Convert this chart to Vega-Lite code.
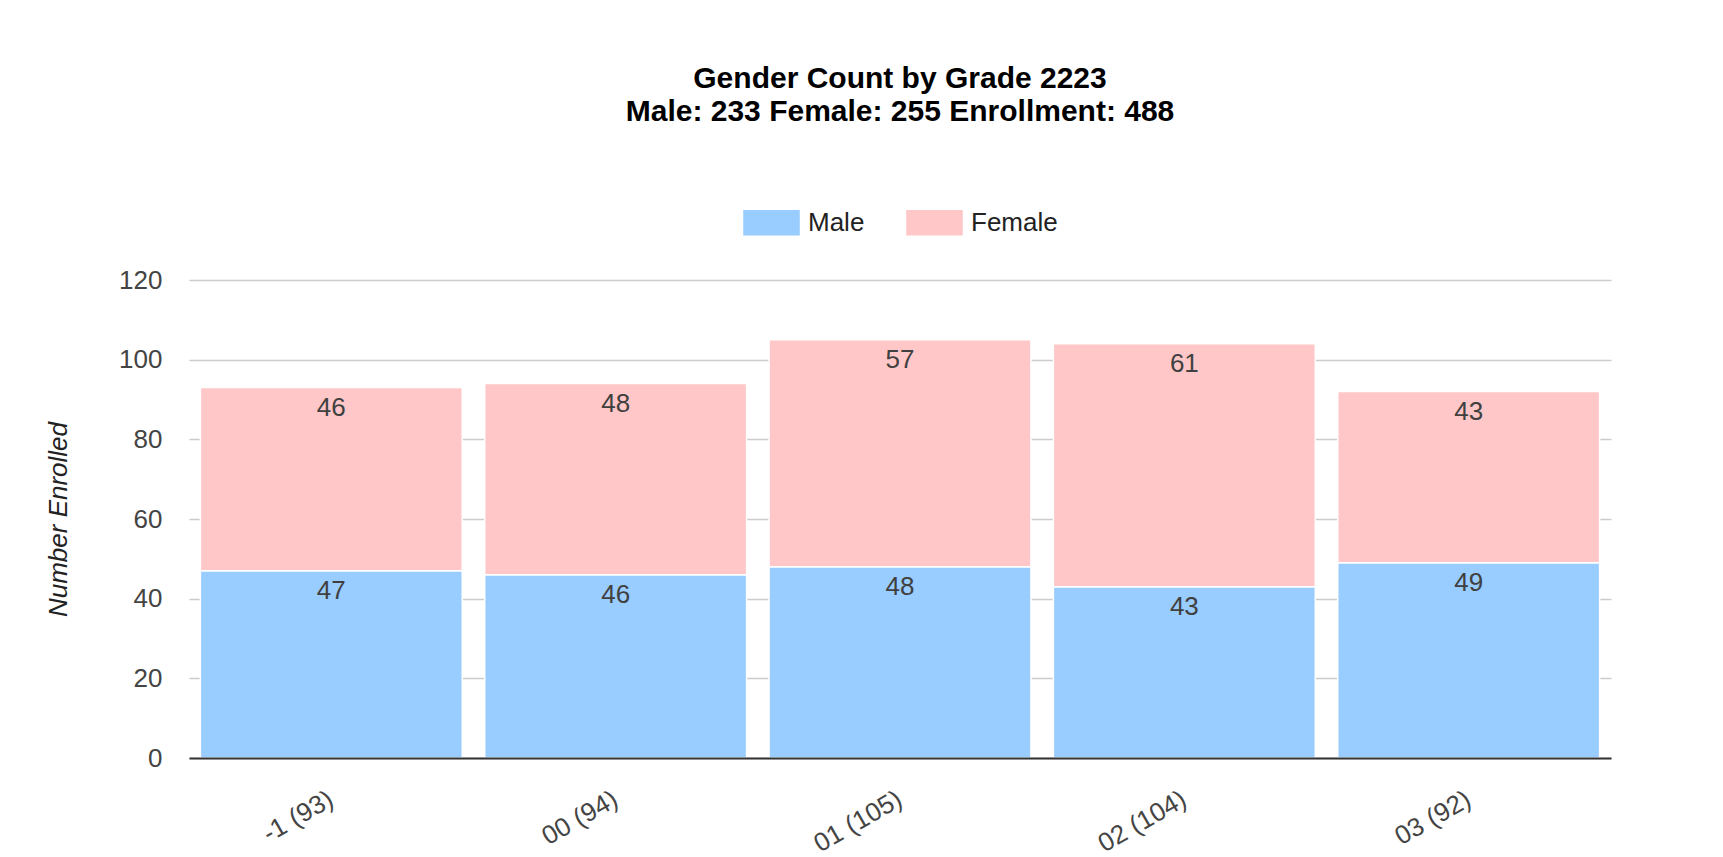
{
  "$schema": "https://vega.github.io/schema/vega-lite/v6.json",
  "width": 1422,
  "height": 478,
  "autosize": {"type": "none"},
  "padding": {"left": 189, "top": 280, "right": 112, "bottom": 99},
  "background": "#ffffff",
  "title": {
    "text": ["Gender Count by Grade 2223", "Male: 233 Female: 255 Enrollment: 488"],
    "fontSize": 30,
    "fontWeight": "bold",
    "color": "#000000",
    "lineHeight": 33,
    "font": "Liberation Sans",
    "anchor": "middle",
    "offset": 67
  },
  "data": {
    "values": [
      {"grade": "-1 (93)", "gender": "Male", "ord": 1, "count": 47},
      {"grade": "-1 (93)", "gender": "Female", "ord": 2, "count": 46},
      {"grade": "00 (94)", "gender": "Male", "ord": 1, "count": 46},
      {"grade": "00 (94)", "gender": "Female", "ord": 2, "count": 48},
      {"grade": "01 (105)", "gender": "Male", "ord": 1, "count": 48},
      {"grade": "01 (105)", "gender": "Female", "ord": 2, "count": 57},
      {"grade": "02 (104)", "gender": "Male", "ord": 1, "count": 43},
      {"grade": "02 (104)", "gender": "Female", "ord": 2, "count": 61},
      {"grade": "03 (92)", "gender": "Male", "ord": 1, "count": 49},
      {"grade": "03 (92)", "gender": "Female", "ord": 2, "count": 43}
    ]
  },
  "transform": [
    {"stack": "count", "groupby": ["grade"], "sort": [{"field": "ord", "order": "ascending"}], "as": ["y0", "y1"]}
  ],
  "encoding": {
    "x": {
      "field": "grade",
      "type": "nominal",
      "sort": null,
      "scale": {"paddingInner": 0.079, "paddingOuter": 0.04},
      "axis": {
        "title": null,
        "labelAngle": -30,
        "labelAlign": "right",
        "labelBaseline": "middle",
        "labelFontSize": 26,
        "labelColor": "#444444",
        "labelFont": "Liberation Sans",
        "labelPadding": 39,
        "ticks": false,
        "tickSize": 0,
        "domain": true,
        "domainColor": "#333333",
        "domainWidth": 2,
        "grid": false,
        "zindex": 1
      }
    }
  },
  "layer": [
    {
      "mark": {"type": "bar", "stroke": "#ffffff", "strokeWidth": 1.5},
      "encoding": {
        "y": {
          "field": "y1",
          "type": "quantitative",
          "scale": {"domain": [0, 120], "nice": false},
          "axis": {
            "title": "Number Enrolled",
            "titleFontStyle": "italic",
            "titleFontWeight": "normal",
            "titleFontSize": 26,
            "titleFont": "Liberation Sans",
            "titleColor": "#222222",
            "titlePadding": 47,
            "values": [0, 10, 20, 30, 40, 50, 60, 70, 80, 90, 100, 110, 120],
            "labelExpr": "datum.value % 20 === 0 ? datum.label : ''",
            "labelFontSize": 26,
            "labelFont": "Liberation Sans",
            "labelColor": "#444444",
            "labelPadding": 27,
            "ticks": false,
            "tickSize": 0,
            "domain": false,
            "grid": true,
            "gridColor": {"condition": {"test": "datum.value % 20 !== 0", "value": "#ebebeb"}, "value": "#cccccc"},
            "gridWidth": 1.5
          }
        },
        "y2": {"field": "y0"},
        "color": {
          "field": "gender",
          "type": "nominal",
          "scale": {"domain": ["Male", "Female"], "range": ["#99ccff", "#ffc7c7"]},
          "legend": {
            "title": null,
            "orient": "top",
            "direction": "horizontal",
            "symbolType": "M-1,-0.45H1V0.45H-1Z",
            "symbolSize": 3200,
            "symbolStrokeWidth": 0,
            "symbolOpacity": 1,
            "labelFontSize": 26,
            "labelFont": "Liberation Sans",
            "labelColor": "#222222",
            "labelOffset": 8,
            "columnPadding": 41,
            "offset": 44
          }
        }
      }
    },
    {
      "mark": {"type": "text", "baseline": "top", "dy": 7, "fontSize": 26, "font": "Liberation Sans", "color": "#404040"},
      "encoding": {
        "y": {"field": "y1", "type": "quantitative"},
        "text": {"field": "count", "type": "quantitative"}
      }
    }
  ],
  "config": {
    "view": {"stroke": null},
    "legend": {"layout": {"top": {"anchor": "middle"}}}
  }
}
